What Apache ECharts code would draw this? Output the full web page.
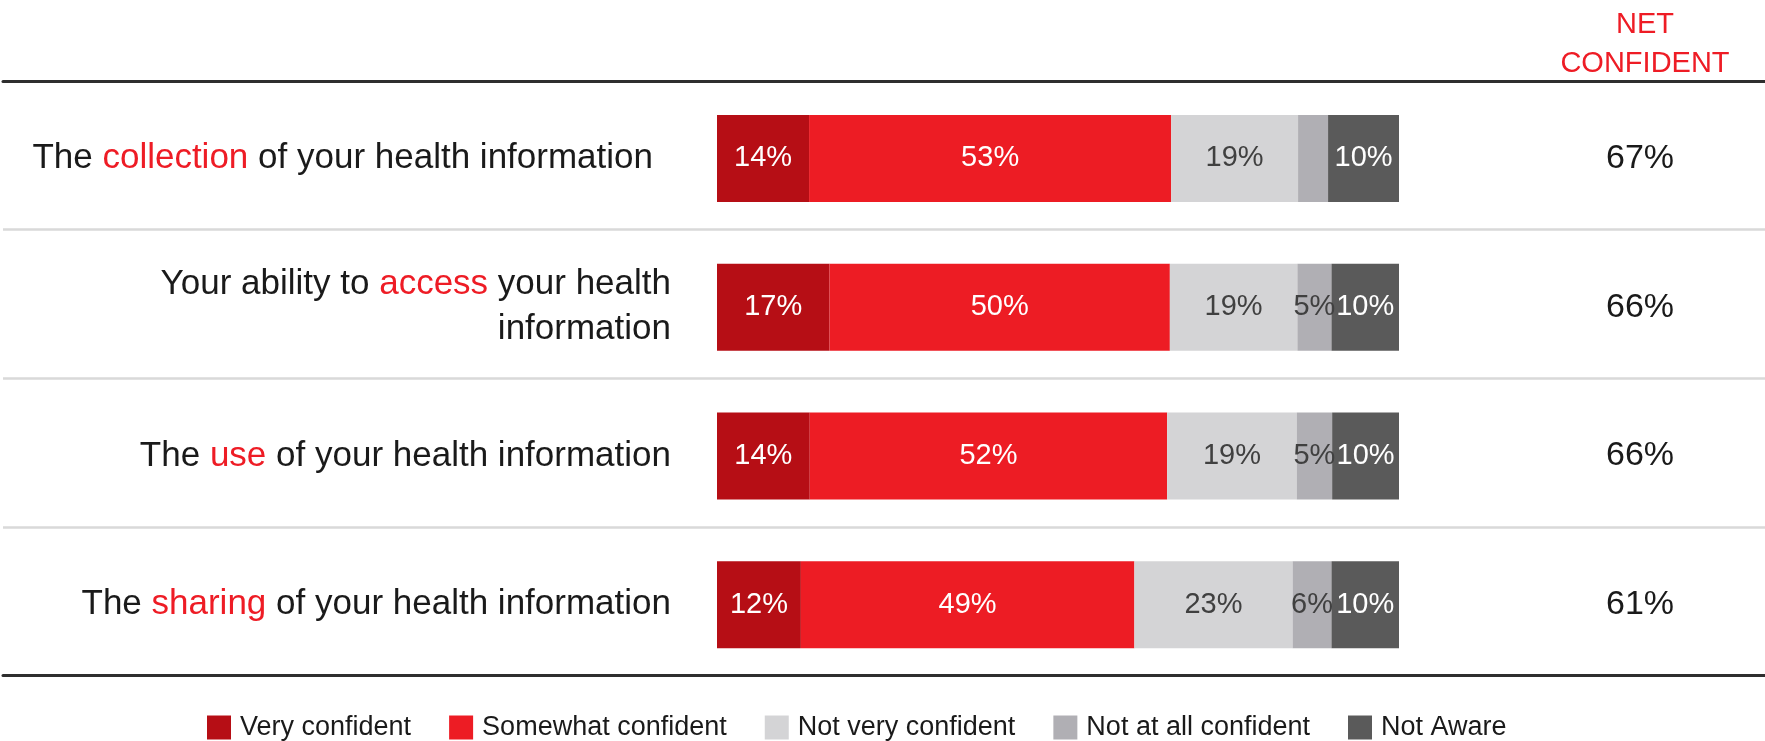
<!DOCTYPE html>
<html>
<head>
<meta charset="utf-8">
<script src="https://cdn.jsdelivr.net/npm/echarts@6/dist/echarts.min.js"></script>
<style>html,body{margin:0;padding:0;background:#fff;}#c{width:1765px;height:741px;}</style>
</head>
<body>
<div id="c"></div>
<script>
const categories = [
  'The collection of your health information',
  'Your ability to access your health\ninformation',
  'The use of your health information',
  'The sharing of your health information'
];
const highlights = ['collection', 'access', 'use', 'sharing'];
const seriesNames = ['Very confident', 'Somewhat confident', 'Not very confident', 'Not at all confident', 'Not Aware'];
const veryConfident = [13.5, 16.5, 13.6, 12.3];
const somewhatConfident = [53.1, 49.9, 52.4, 48.9];
const notVeryConfident = [18.6, 18.7, 19.0, 23.2];
const notAtAllConfident = [4.4, 5.0, 5.2, 5.7];
const notAware = [10.4, 9.9, 9.8, 9.9];
const netConfident = ['67%', '66%', '66%', '61%'];

const colors = ['#b60e15', '#ed1c24', '#d4d4d6', '#b0afb4', '#5a5a5a'];
const labelColors = ['#ffffff', '#ffffff', '#404040', '#404040', '#ffffff'];
const values = [veryConfident, somewhatConfident, notVeryConfident, notAtAllConfident, notAware];

const FONT = '"Liberation Sans", Arial, sans-serif';

function catLabel(value, idx) {
  const hw = highlights[idx];
  const pos = value.indexOf(hw);
  const before = value.slice(0, pos);
  const after = value.slice(pos + hw.length);
  const last = idx === 0 ? 'p' : 'n';
  const afterLines = after.split('\n');
  let s = '{n|' + before + '}{r|' + hw + '}';
  afterLines.forEach((ln, i) => {
    if (i > 0) s += '\n';
    s += '{' + (i === afterLines.length - 1 ? last : 'n') + '|' + ln + '}';
  });
  return s;
}

const chart = echarts.init(document.getElementById('c'), null, {renderer: 'canvas'});
chart.setOption({
  animation: false,
  backgroundColor: '#ffffff',
  title: {
    text: 'NET\nCONFIDENT',
    left: 1640,
    top: 0,
    textAlign: 'center',
    textStyle: {color: '#ee1c25', fontSize: 29, fontWeight: 'normal', fontFamily: FONT, lineHeight: 39}
  },
  legend: {
    left: 202,
    top: 709,
    itemWidth: 24,
    itemHeight: 24,
    itemGap: 38,
    icon: 'rect',
    data: seriesNames,
    textStyle: {color: '#1a1a1a', fontSize: 27, fontFamily: FONT, padding: [0, 0, 0, 4]}
  },
  grid: [
    {left: 717, right: 366, top: 84, bottom: 62, containLabel: false},
    {left: 3, right: 0, top: 81, bottom: 65.5, containLabel: false}
  ],
  xAxis: [
    {gridIndex: 0, type: 'value', min: 0, max: 100, show: false},
    {gridIndex: 1, type: 'value', min: 0, max: 1, position: 'top',
      axisLine: {show: true, onZero: false, lineStyle: {color: '#2e2e2e', width: 3}},
      axisTick: {show: false}, axisLabel: {show: false}, splitLine: {show: false}},
    {gridIndex: 1, type: 'value', min: 0, max: 1, position: 'bottom',
      axisLine: {show: true, onZero: false, lineStyle: {color: '#2e2e2e', width: 3}},
      axisTick: {show: false}, axisLabel: {show: false}, splitLine: {show: false}}
  ],
  yAxis: [
    {gridIndex: 0, type: 'category', inverse: true, data: categories,
      axisLine: {show: false}, axisTick: {show: false},
      axisLabel: {
        margin: 46, align: 'right',
        formatter: catLabel,
        rich: {
          n: {color: '#1a1a1a', fontSize: 35, fontFamily: FONT, lineHeight: 45, align: 'right'},
          p: {color: '#1a1a1a', fontSize: 35, fontFamily: FONT, lineHeight: 45, align: 'right', padding: [0, 18, 0, 0]},
          r: {color: '#ee1c25', fontSize: 35, fontFamily: FONT, lineHeight: 45, align: 'right'}
        }
      }},
    {gridIndex: 0, type: 'category', inverse: true, position: 'right', data: netConfident,
      axisLine: {show: false}, axisTick: {show: false},
      axisLabel: {margin: 241, align: 'center', color: '#1a1a1a', fontSize: 34, fontFamily: FONT}},
    {gridIndex: 1, type: 'category', data: ['a', 'b', 'c', 'd'],
      axisLine: {show: false}, axisTick: {show: false}, axisLabel: {show: false},
      splitLine: {show: true, lineStyle: {color: '#d9d9d9', width: 2.5}}}
  ],
  series: seriesNames.map((name, i) => ({
    name: name,
    type: 'bar',
    stack: 'total',
    xAxisIndex: 0,
    yAxisIndex: 0,
    barWidth: 87,
    data: values[i],
    itemStyle: {color: colors[i]},
    label: {
      show: true,
      position: 'inside',
      color: labelColors[i],
      fontSize: 29,
      fontFamily: FONT,
      formatter: p => (p.value >= 4.5 ? Math.round(p.value) + '%' : '')
    }
  }))
});
</script>
</body>
</html>
